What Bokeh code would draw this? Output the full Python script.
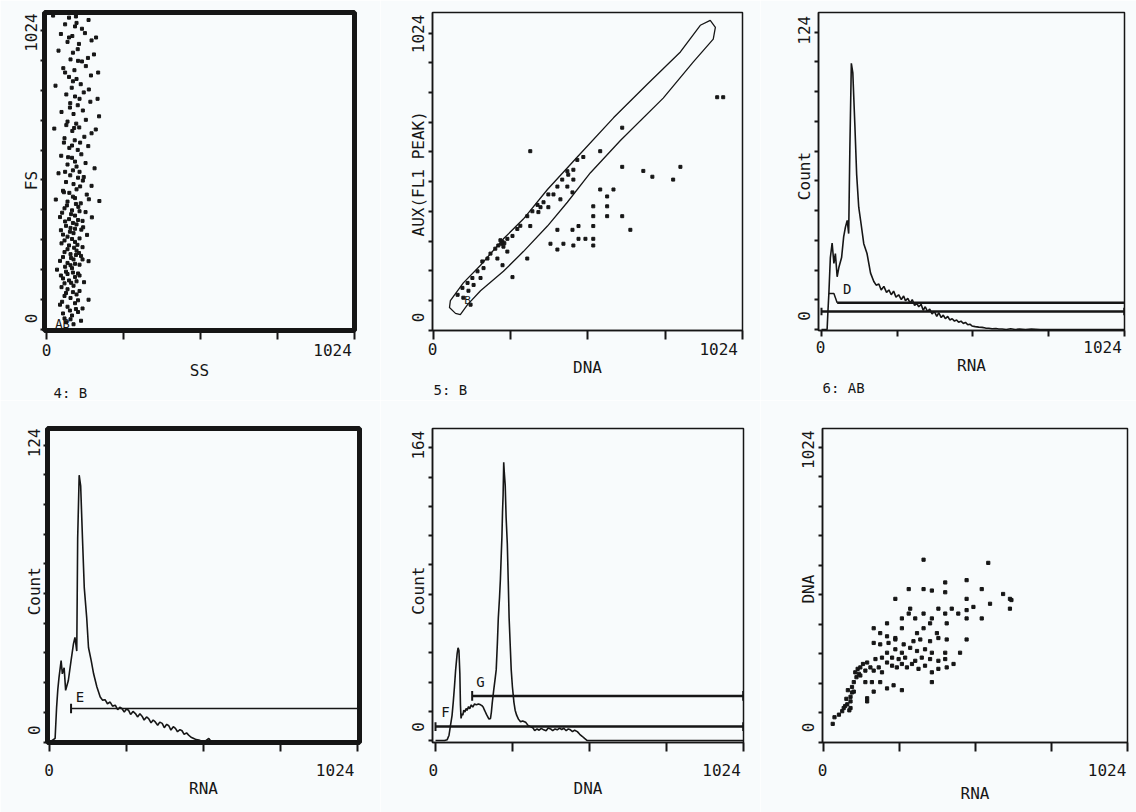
from bokeh.plotting import figure
from bokeh.layouts import column, row
from bokeh.models import Range1d, FixedTicker, Label
from bokeh.embed import file_html
from bokeh.resources import INLINE

FONT = "DejaVu Sans Mono"
INK = "#161616"
BG = "#f8fbfc"

# ---------------- tick values and tick labels ----------------
x_ticks = [0, 256, 512, 768, 1024]
ticks_1024 = [0, 102.4, 204.8, 307.2, 409.6, 512, 614.4, 716.8, 819.2, 921.6, 1024]
ticks_124 = [0, 12.4, 24.8, 37.2, 49.6, 62, 74.4, 86.8, 99.2, 111.6, 124]
ticks_164 = [0, 16.4, 32.8, 49.2, 65.6, 82, 98.4, 114.8, 131.2, 147.6, 164]
x_tick_text = ["0", "1024"]
# where the scanned labels sit along each axis
p1_x_label_pos = [0, 952]
p2_x_label_pos = [-3, 946]
p3_x_label_pos = [-3, 951]
p4_x_label_pos = [-3, 948]
p5_x_label_pos = [-7, 952]
p6_x_label_pos = [-2, 956]
p1_y_label_pos, p1_y_label_text = [38, 510, 1017], ["0", "FS", "1024"]
p2_y_label_pos, p2_y_label_text = [44, 539, 1021], ["0", "AUX(FL1 PEAK)", "1024"]
p3_y_label_pos, p3_y_label_text = [5.7, 64, 124.8], ["0", "Count", "124"]
p4_y_label_pos, p4_y_label_text = [5, 63, 125], ["0", "Count", "124"]
p5_y_label_pos, p5_y_label_text = [7.6, 84, 165.6], ["0", "Count", "164"]
p6_y_label_pos, p6_y_label_text = [51, 531, 1015], ["0", "DNA", "1024"]

# ---------------- 4: FS vs SS (dot plot) ----------------
ss_values = [
    22, 75, 98, 140, 62, 95, 118,
    48, 86, 128, 165, 70, 108, 150,
    40, 88, 104, 158, 80, 118, 138,
    56, 93, 131, 172, 75, 100, 148,
    30, 84, 114, 141, 66, 95, 124, 170,
    79, 104, 146, 50, 90, 121, 175,
    70, 99, 131, 26, 86, 109, 150, 164,
    60, 94, 126, 76, 104, 139,
    49, 85, 116, 70, 100, 130, 160,
    40, 79, 110, 124, 65, 90, 121, 150,
    55, 76, 100, 134, 31, 70, 95, 114, 141, 176,
    60, 85, 106, 130, 45, 75, 95, 120, 151,
    65, 80, 100, 116, 55, 70, 90, 110, 135,
    50, 75, 95, 120, 60, 80, 100, 115,
    45, 70, 90, 110, 140, 35, 65, 85, 105,
    55, 75, 95, 125, 50, 70, 90, 110,
    60, 80, 100, 140, 45, 70, 95, 120,
    55, 85, 105, 65, 90, 115,
    58, 88, 112, 68, 98, 52, 82, 110, 62, 88,
    105, 48, 78, 95, 122, 60, 85, 103, 70, 92,
    108, 55, 82, 98, 120, 62, 80, 95, 48, 70,
    88, 110, 60, 82, 100, 65, 88, 105, 52, 78,
    98, 60, 80, 72, 95, 62, 88, 105, 58, 85,
    112, 66, 92, 78, 110, 88, 62, 105, 75, 100,
]
fs_values = [
    1075, 1068, 1072, 1060, 1045, 1038, 1030,
    1012, 1005, 1015, 1000, 985, 978, 990,
    955, 948, 960, 942, 925, 918, 930,
    895, 888, 902, 880, 865, 858, 870,
    835, 828, 840, 822, 805, 798, 812, 790,
    775, 768, 780, 745, 738, 750, 730,
    712, 705, 718, 688, 680, 692, 672, 685,
    655, 648, 660, 622, 615, 628,
    595, 588, 600, 565, 558, 570, 552,
    535, 528, 540, 522, 505, 498, 510, 492,
    475, 468, 480, 462, 445, 438, 450, 432, 446, 440,
    415, 408, 420, 402, 385, 378, 390, 372, 384,
    355, 348, 360, 342, 325, 318, 330, 312, 324,
    295, 288, 300, 282, 265, 258, 270, 252,
    235, 228, 240, 222, 234, 205, 198, 210, 192,
    175, 168, 180, 162, 145, 138, 150, 132,
    115, 108, 120, 102, 85, 78, 90, 72,
    55, 48, 60, 25, 18, 30,
    470, 455, 490, 425, 430, 400, 395, 405, 370, 365,
    375, 340, 335, 345, 350, 305, 310, 290, 275, 280,
    262, 248, 245, 255, 240, 215, 220, 225, 185, 190,
    195, 185, 158, 160, 165, 125, 128, 100, 95, 65,
    70, 38, 35, 590, 575, 540, 545, 520, 640, 630,
    640, 700, 690, 760, 790, 850, 880, 920, 1000, 1050,
]

# ---------------- 5: AUX(FL1 PEAK) vs DNA ----------------
dna5_values = [
    941, 961, 626, 321, 553, 626, 696, 726, 819, 795,
    553, 597, 576, 530, 576, 530, 576, 626, 653, 411,
    461, 481, 530, 481, 504, 530, 388, 431, 411, 464,
    530, 311, 262,
    444, 464, 497, 477, 447, 464, 427, 444, 411, 461,
    398, 421, 381, 365, 381, 345, 355, 328, 348, 311,
    288, 321, 278, 262, 245, 229, 222, 235, 226, 215,
    232, 205, 245, 189, 179, 212, 162, 229, 166, 146,
    129, 156, 113, 133, 96, 116, 80, 99, 123,
]
aux5_values = [
    803, 803, 698, 617, 617, 563, 549, 529, 563, 519,
    485, 485, 461, 427, 427, 393, 393, 393, 346, 346,
    346, 359, 359, 315, 315, 315, 298, 298, 278, 292,
    292, 247, 183,
    548, 553, 597, 587, 536, 519, 519, 495, 495, 475,
    468, 451, 468, 441, 424, 432, 424, 410, 407, 393,
    360, 359, 349, 325, 315, 305, 310, 300, 298, 292,
    288, 281, 271, 264, 247, 247, 237, 224, 214, 203,
    180, 180, 163, 156, 146, 136, 122, 112, 88,
]
gate_B_x = [56, 99, 156, 232, 298, 378, 477, 597, 709, 819, 885, 918, 935, 928,
            862, 762, 620, 520, 444, 378, 298, 232, 156, 113, 89, 73, 53, 56]
gate_B_y = [102, 163, 224, 315, 383, 485, 597, 732, 848, 959, 1051, 1068, 1044, 1003,
            925, 800, 654, 542, 441, 359, 271, 203, 136, 88, 54, 58, 78, 102]

# ---------------- 6: Count vs RNA (histogram) ----------------
rna6_channel = [0, 19, 22, 25, 30, 36, 42, 47, 53, 59,
                68, 75, 81, 87, 92, 96, 101, 106, 113, 119,
                126, 134, 143, 154, 166, 177, 185, 194, 202, 211,
                220, 228, 236, 244, 252, 261, 270, 278, 284, 292,
                300, 307, 315, 322, 329, 337, 344, 351, 359, 366,
                374, 382, 390, 397, 405, 412, 419, 427, 434, 442,
                450, 457, 464, 472, 480, 487, 495, 502, 509, 520,
                532, 543, 555, 566, 577, 590, 600, 611, 625, 640,
                655, 670, 690, 710, 740, 800, 900, 1024]
rna6_count = [0, 0, 8, 15, 30, 36, 27.6, 31.7, 22, 26,
              30, 38.6, 42.7, 45.5, 40, 75.6, 111, 107, 85, 64.6,
              51, 44, 35.8, 31.7, 23.5, 20, 18.5, 19, 16.5, 18,
              15.5, 16.5, 14.5, 16, 13.5, 14.5, 12.5, 14, 12, 13,
              11, 12.5, 10, 11, 9.5, 10.5, 8, 9.5, 7.5, 8.5,
              6.5, 7.5, 5.5, 7, 5, 6, 4.5, 5.5, 4, 4.5,
              3.5, 4, 3, 3.5, 2.5, 3, 2, 2.2, 1.5, 1.2,
              1, 0.9, 0.6, 0.5, 0.3, 0.4, 0.2, 0.2, 0, 0.3,
              0, 0.2, 0, 0.2, 0, 0, 0, 0]
gate_AB6_x = [0, 1024]
gate_AB6_level = 7.5
gate_D_x = [53, 1024]
gate_D_level = 11.2
gate_D_cursor_x = [25, 42, 53]
gate_D_cursor_y = [15, 15, 11.2]

# ---------------- bottom-left: Count vs RNA (histogram) ----------------
rna7_channel = [0, 17, 22, 26, 30, 37, 41, 47, 52, 61,
                70, 78, 83, 89, 92, 97, 102, 108, 114, 122,
                128, 137, 145, 156, 167, 175, 183, 191, 200, 208,
                217, 225, 232, 239, 247, 254, 261, 268, 276, 284,
                291, 299, 306, 313, 321, 328, 336, 343, 350, 358,
                365, 373, 380, 388, 395, 402, 410, 417, 424, 432,
                439, 446, 454, 461, 469, 478, 486, 495, 505, 515,
                528, 535, 550, 570, 1024]
rna7_count = [0, 1.5, 14.6, 22, 27, 34, 28.5, 31, 21.6, 25.7,
              34, 41, 43.7, 38, 85, 111.5, 107, 85, 64.4, 52,
              39.5, 34, 28.5, 23, 18.8, 17.5, 17.7, 16, 16.7, 15,
              15.4, 13.5, 14.5, 14, 12.5, 13.8, 13.3, 11.5, 12.8, 11.9,
              10.5, 11.8, 10.8, 9.2, 10.5, 9.8, 8, 9.2, 8.4, 7,
              8.3, 7.8, 6, 7.4, 6.8, 5, 6.4, 5.7, 4.3, 5.2,
              4.7, 3.2, 3.8, 2.9, 2, 1.5, 1, 0.8, 0.3, 0.3,
              1.5, 0.3, 0.3, 0, 0]
gate_E_x = [70, 1024]
gate_E_level = 14

# ---------------- bottom-middle: Count vs DNA (histogram) ----------------
dna8_channel = [0, 30, 39, 45, 50, 55, 59, 63, 67, 72,
                75, 78, 81, 83, 85, 88, 91, 94, 98, 102,
                105, 110, 114, 119, 124, 130, 136, 143, 150, 155,
                159, 163, 166, 170, 174, 178, 183, 186, 189, 194,
                198, 202, 206, 209, 213, 216, 219, 221, 223, 225,
                227, 229, 232, 235, 239, 242, 245, 249, 252, 256,
                261, 265, 270, 276, 283, 290, 300, 308, 316, 325,
                330, 338, 345, 352, 360, 368, 375, 383, 390, 398,
                405, 413, 420, 427, 435, 442, 449, 456, 463, 472,
                480, 488, 496, 505, 1024]
dna8_count = [0, 0, 0.5, 3, 8.7, 14, 21.4, 30, 39.6, 48.7,
              52, 50.5, 37.8, 20, 12.4, 15, 14.2, 17, 16, 18,
              16.9, 19, 17.8, 20, 18.7, 20.5, 20, 20.5, 20, 19.5,
              18.7, 17, 16, 14.5, 13.3, 12, 12.4, 16, 21.4, 28.7,
              34, 39.6, 55, 68.7, 80, 90.5, 105, 114, 128, 137.7,
              156, 150, 143, 125, 110, 90, 68.7, 52, 39.6, 30,
              21.4, 17, 14.2, 12, 10.5, 11, 10.2, 8.5, 7.8, 7,
              5.5, 6.5, 5.8, 6.8, 6, 5.5, 7, 6.5, 5.5, 6.5,
              6, 7, 6.2, 6.9, 5.5, 6.5, 6, 5, 5.8, 5,
              3.5, 2.4, 1.2, 0, 0]
gate_F_x = [0, 1024]
gate_F_level = 7.8
gate_G_x = [122, 1024]
gate_G_level = 25

# ---------------- bottom-right: DNA vs RNA (dot plot) ----------------
rna9_values = [
    32, 38, 53, 64, 69, 81, 92, 78, 92, 97,
    83, 97, 103, 112, 108, 116, 125, 134, 120, 148,
    159, 170, 187, 198, 176, 198, 215, 232, 248, 265,
    282, 299, 321, 343, 366, 388, 416, 439, 232, 254,
    276, 310, 332, 360, 388, 411, 215, 243, 265, 293,
    316, 343, 366, 411, 461, 192, 220, 243, 271, 304,
    327, 360, 388, 416, 170, 192, 170, 215, 243, 483,
    215, 265, 288, 310, 338, 366, 388, 411, 433, 455,
    483, 506, 534, 483, 416, 360, 293, 243, 288, 338,
    366, 411, 411, 483, 483, 534, 562, 556, 338, 606,
    629, 629, 338, 383, 316, 265, 148, 170, 215, 142,
    164, 192, 237, 265, 148, 366, 103, 92, 125, 142,
    634, 88, 74,
]
dna9_values = [
    63, 86, 95, 107, 118, 131, 141, 150, 157, 172,
    180, 191, 208, 225, 242, 254, 259, 271, 237, 276,
    259, 248, 259, 242, 288, 293, 276, 265, 259, 271,
    259, 271, 254, 265, 242, 254, 259, 271, 293, 288,
    293, 282, 293, 288, 282, 288, 310, 322, 310, 327,
    316, 322, 310, 310, 310, 339, 344, 356, 339, 350,
    356, 350, 361, 356, 344, 378, 395, 367, 361, 356,
    412, 429, 446, 429, 446, 429, 463, 446, 463, 446,
    458, 469, 429, 429, 412, 412, 463, 497, 531, 531,
    526, 520, 554, 562, 497, 531, 480, 622, 633, 514,
    497, 463, 395, 378, 378, 395, 152, 175, 186, 208,
    208, 208, 197, 180, 141, 208, 175, 118, 231, 248,
    493, 110, 125,
]


def make_panel(width, height, border, xr, yr, yticks, outline_w,
               x_label_pos, y_label_pos, y_label_text, x_title,
               x_lab_standoff, x_title_standoff, y_lab_standoff,
               caption=None, caption_offset=0, xtick_out=9):
    left, right, top, bottom = border
    p = figure(width=width, height=height,
               x_range=Range1d(xr[0], xr[1]), y_range=Range1d(yr[0], yr[1]),
               output_backend="svg", toolbar_location=None, tools="",
               min_border_left=left, min_border_right=right,
               min_border_top=top, min_border_bottom=bottom,
               background_fill_color=BG, border_fill_color=BG)
    p.xgrid.visible = False
    p.ygrid.visible = False
    p.outline_line_color = INK
    p.outline_line_width = outline_w
    p.outline_line_alpha = 1.0

    xa = p.xaxis[0]
    ya = p.yaxis[0]
    xa.ticker = FixedTicker(ticks=x_label_pos, minor_ticks=x_ticks)
    xa.major_label_overrides = dict(zip(x_label_pos, x_tick_text))
    xa.minor_tick_out = xtick_out
    xa.major_label_standoff = x_lab_standoff
    xa.axis_label = x_title
    xa.axis_label_standoff = x_title_standoff
    xa.axis_label_text_font = FONT
    xa.axis_label_text_font_size = "16px"
    xa.axis_label_text_font_style = "normal"
    xa.axis_label_text_color = INK

    ya.ticker = FixedTicker(ticks=y_label_pos, minor_ticks=yticks)
    ya.major_label_overrides = dict(zip(y_label_pos, y_label_text))
    ya.major_label_orientation = "parallel"
    ya.minor_tick_out = 4
    ya.major_label_standoff = y_lab_standoff

    for ax in (xa, ya):
        ax.major_tick_out = 0
        ax.major_tick_in = 0
        ax.major_tick_line_color = None
        ax.minor_tick_in = 0
        ax.minor_tick_line_color = INK
        ax.minor_tick_line_width = 2
        ax.axis_line_color = INK
        ax.axis_line_width = 1.5
        ax.major_label_text_font = FONT
        ax.major_label_text_font_size = "16px"
        ax.major_label_text_color = INK

    if caption:
        p.title_location = "below"
        p.title.text = caption
        p.title.align = "left"
        p.title.offset = caption_offset
        p.title.standoff = 0
        p.title.text_font = FONT
        p.title.text_font_size = "14px"
        p.title.text_font_style = "normal"
        p.title.text_color = INK
    return p


def lab(p, text, x, y, size="14px"):
    p.add_layout(Label(x=x, y=y, text=text, text_align="center", text_baseline="middle",
                       text_font=FONT, text_font_size=size, text_color=INK))


def gate(p, xs, level, half, width):
    p.line(xs, [level, level], line_color=INK, line_width=width)
    if half > 0:
        p.segment(x0=xs, y0=[level - half] * 2, x1=xs, y1=[level + half] * 2,
                  line_color=INK, line_width=2)


# ---- 4: B ----
p1 = make_panel(380, 400, (44, 26, 12, 70), (-6.6, 1025), (-3.4, 1085.6), ticks_1024, 5,
                p1_x_label_pos, p1_y_label_pos, p1_y_label_text, "SS",
                4, 2, -1, caption="4: B", caption_offset=9)
p1.scatter(ss_values, fs_values, marker="square", size=3, color=INK)
lab(p1, "AB", 53, 20, size="12px")

# ---- 5: B ----
p2 = make_panel(380, 400, (52, 18, 10, 67), (-3.3, 1025), (-1, 1095), ticks_1024, 1.5,
                p2_x_label_pos, p2_y_label_pos, p2_y_label_text, "DNA",
                3, 0, 0, caption="5: B", caption_offset=1)
p2.patch(gate_B_x, gate_B_y, fill_color=None, line_color=INK, line_width=1.3)
p2.scatter(dna5_values, aux5_values, marker="square", size=3, color=INK)
lab(p2, "B", 113, 102, size="11px")

# ---- 6: AB ----
p3 = make_panel(376, 400, (58, 12, 12, 65), (-10.1, 1025), (-0.41, 132.2), ticks_124, 1.5,
                p3_x_label_pos, p3_y_label_pos, p3_y_label_text, "RNA",
                4, 0, 0, caption="6: AB", caption_offset=4, xtick_out=6)
p3.line(rna6_channel, rna6_count, line_color=INK, line_width=1.6)
gate(p3, gate_AB6_x, gate_AB6_level, 1.6, 2.5)
gate(p3, gate_D_x, gate_D_level, 0, 2.5)
p3.line(gate_D_cursor_x, gate_D_cursor_y, line_color=INK, line_width=1.5)
lab(p3, "D", 87, 16.8)

# ---- bottom-left ----
p4 = make_panel(380, 412, (47, 21, 26, 70), (-8.3, 1029), (-0.2, 131), ticks_124, 5,
                p4_x_label_pos, p4_y_label_pos, p4_y_label_text, "RNA",
                12, 0, -1)
p4.line(rna7_channel, rna7_count, line_color=INK, line_width=1.6)
gate(p4, gate_E_x, gate_E_level, 2.0, 1.6)
lab(p4, "E", 100, 18.8)

# ---- bottom-middle ----
p5 = make_panel(380, 412, (52, 17, 25, 64), (-10, 1025), (-1.1, 174.9), ticks_164, 1.5,
                p5_x_label_pos, p5_y_label_pos, p5_y_label_text, "DNA",
                12, 0, 0)
p5.line(dna8_channel, dna8_count, line_color=INK, line_width=1.6)
gate(p5, gate_F_x, gate_F_level, 2.5, 2.5)
gate(p5, gate_G_x, gate_G_level, 2.7, 2.5)
lab(p5, "F", 33, 16)
lab(p5, "G", 150, 32.7)

# ---- bottom-right ----
p6 = make_panel(376, 412, (62, 9, 28, 64), (-2.4, 1025), (-1.7, 1088.6), ticks_1024, 1.5,
                p6_x_label_pos, p6_y_label_pos, p6_y_label_text, "RNA",
                12, 5, 0)
p6.scatter(rna9_values, dna9_values, marker="square", size=3.2, color=INK)

layout = column(row(p1, p2, p3, spacing=0), row(p4, p5, p6, spacing=0), spacing=0)

with open("out.html", "w") as f:
    f.write(file_html(layout, INLINE, title="Flow cytometry panels"))
